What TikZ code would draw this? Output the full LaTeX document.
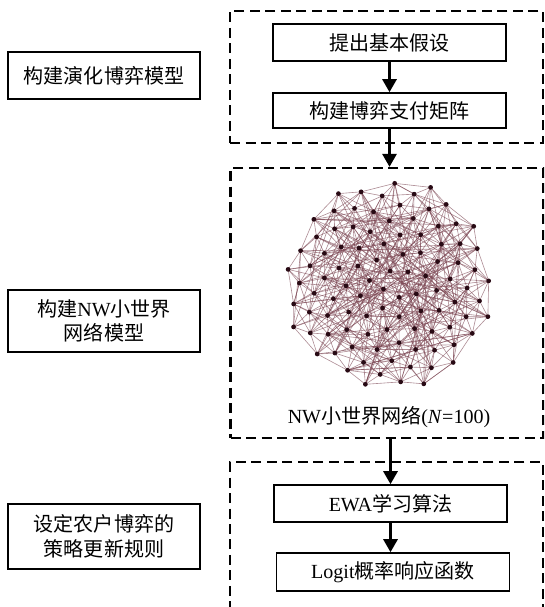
\documentclass[tikz,border=0pt]{standalone}
\usepackage{fontspec}
\setmainfont{Liberation Serif}
\newfontfamily\cjk{Noto Sans CJK SC}
\usetikzlibrary{arrows.meta}
\definecolor{netline}{RGB}{120,65,78}
\definecolor{netdark}{RGB}{40,10,20}
\tikzset{
  boxfont/.style={font=\fontsize{11.4}{13}\selectfont},
  stepbox/.style={draw, line width=0.9pt, boxfont, minimum width=4.66cm, inner sep=2pt},
  sidebox/.style={draw, line width=1pt, boxfont, minimum width=3.84cm, align=center, inner sep=2pt},
  groupbox/.style={draw, line width=1.3pt, dash pattern=on 0.2cm off 0.11cm, minimum width=6.26cm},
  flowarrow/.style={line width=1.6pt, -{Triangle[width=0.28cm,length=0.26cm]}},
  netedge/.style={draw=netline, opacity=0.6, line width=0.35pt},
  netdot/.style={circle, fill=netdark, inner sep=0pt, minimum size=0.095cm}
}
\begin{document}
\begin{tikzpicture}[x=0.02cm, y=-0.02cm]
  \clip (0,0) rectangle (544,607);

  % left column
  \node [sidebox, minimum height=0.94cm] (model) at (104,75.5) {{\cjk 构建演化博弈模型}};
  \node [sidebox, minimum height=1.24cm, font=\fontsize{11.4}{13.5}\selectfont] (nwmodel) at (104,321) {{\cjk 构建}NW{\cjk 小世界}\\{\cjk 网络模型}};
  \node [sidebox, minimum height=1.30cm, font=\fontsize{11.4}{14}\selectfont] (rule) at (104,536.5) {{\cjk 设定农户博弈的}\\{\cjk 策略更新规则}};

  % dashed groups
  \node [groupbox, minimum height=2.64cm] (gamegroup) at (386.5,77) {};
  \node [groupbox, minimum height=5.40cm] (netgroup) at (387,303) {};
  \node [groupbox, minimum height=3.60cm] (rulegroup) at (386.5,552) {};

  % steps
  \node [stepbox, minimum height=0.74cm] (assume) at (389.5,42.5) {{\cjk 提出基本假设}};
  \node [stepbox, minimum height=0.70cm] (payoff) at (389.5,110.5) {{\cjk 构建博弈支付矩阵}};
  \node [stepbox, minimum height=0.74cm] (ewa) at (390.5,503.5) {EWA{\cjk 学习算法}};
  \node [stepbox, minimum height=0.76cm] (logit) at (393,572) {Logit{\cjk 概率响应函数}};
  \node [boxfont] (netlabel) at (389,417) {NW{\cjk 小世界网络}(\textit{N}=100)};

  % small world network
  \foreach \i in {1,...,100} {
    \pgfmathsetmacro\r{106*sqrt((\i-0.5)/100)}
    \pgfmathsetmacro\a{137.508*\i}
    \coordinate (v\i) at ({389+\r*cos(\a)},{284+\r*sin(\a)});
  }
  \foreach \i in {1,...,100} {
    \foreach \k in {3,5,8,13,21,34,55} {
      \pgfmathtruncatemacro\j{\i+\k}
      \ifnum\j<101
        \pgfmathsetmacro\ri{10.6*sqrt((\i-0.5)/100)}
        \pgfmathsetmacro\rj{10.6*sqrt((\j-0.5)/100)}
        \pgfmathsetmacro\d{sqrt(\ri*\ri+\rj*\rj-2*\ri*\rj*cos(137.508*\k))}
        \ifdim\d pt<4.3pt
          \draw [netedge] (v\i) -- (v\j);
        \fi
      \fi
    }
  }
  \pgfmathsetseed{17}
  \foreach \i in {1,...,100} {
    \foreach \m in {1,2} {
      \pgfmathrandominteger{\j}{1}{100}
      \draw [netedge] (v\i) -- (v\j);
    }
  }
  \foreach \i in {1,...,100}
    \node [netdot] (d\i) at (v\i) {};

  % arrows
  \draw [flowarrow] (assume) -- (payoff);
  \draw [flowarrow] (payoff.south) -- (payoff.south |- netgroup.north);
  \draw [flowarrow] (ewa.north |- netgroup.south) -- (ewa.north);
  \draw [flowarrow] (ewa.south) -- (ewa.south |- logit.north);
\end{tikzpicture}
\end{document}
